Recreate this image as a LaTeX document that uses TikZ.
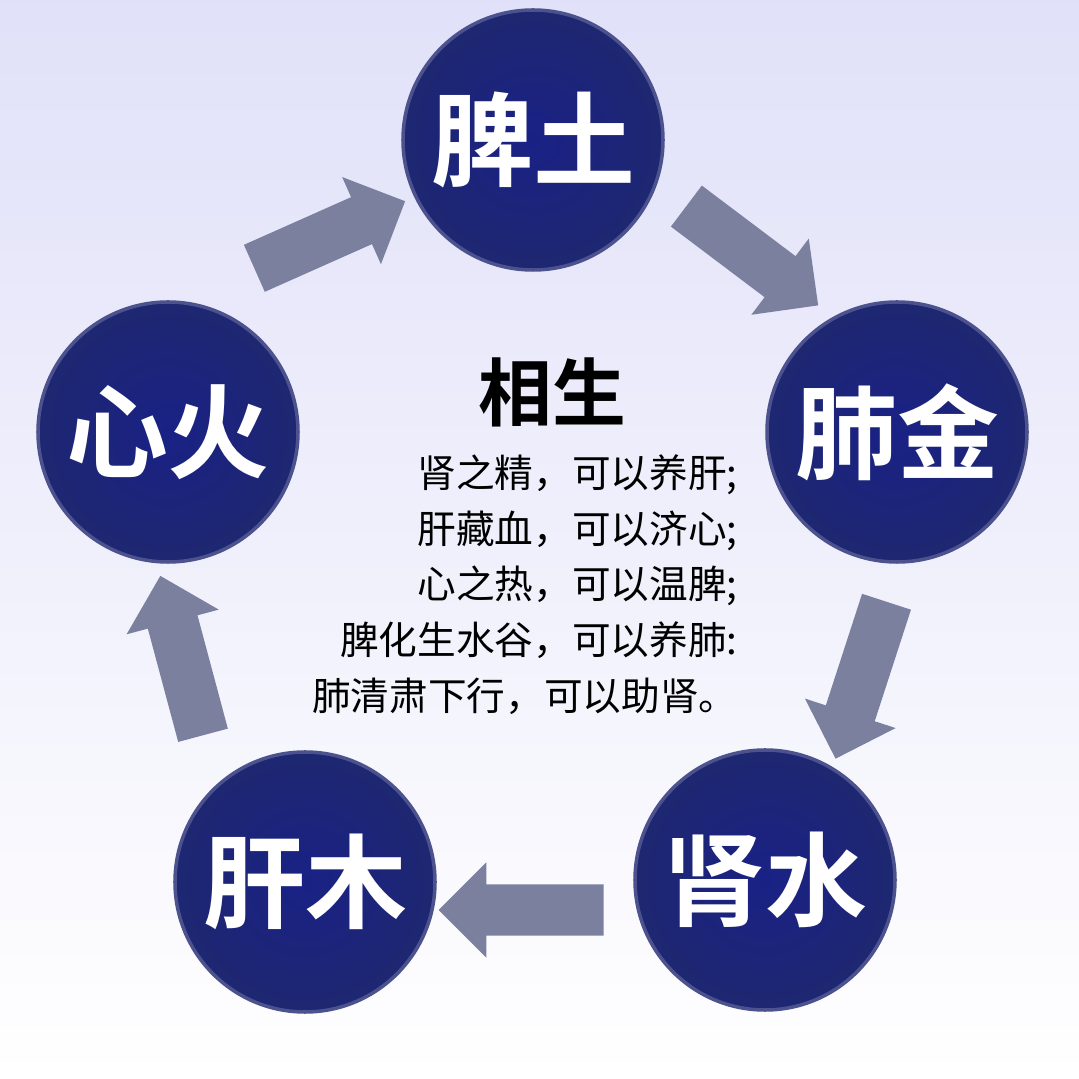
\documentclass[tikz,border=0pt]{standalone}
\usepackage{fontspec}
\newfontfamily\cjk{Noto Sans CJK SC}
\newfontfamily\cjkb{Noto Sans CJK SC Bold}
\usetikzlibrary{shapes.arrows}
\definecolor{navy}{HTML}{1E2770}
\definecolor{arrowgray}{HTML}{7C809F}
\begin{document}
\begin{tikzpicture}[
    phase/.style={circle, minimum size=2.6cm, inner sep=0pt, draw=navy!80!white, line width=1pt,
      inner color=navy!85!blue, outer color=navy, text=white, font=\cjkb\fontsize{29}{32}\selectfont},
    flow/.style={single arrow, fill=arrowgray, draw=none, minimum height=1.65cm,
      inner xsep=0pt, inner ysep=0.25cm, single arrow head extend=0.22cm}
  ]
  % background
  \shade[top color=black!20!blue!12!white, bottom color=white] (0,0) rectangle (10.79,10.79);
  \useasboundingbox (0,0) rectangle (10.79,10.79);

  % the five phases
  \node[phase] (pi) at (5.33,9.39) {脾土};
  \node[phase] (fei) at (8.97,6.47) {肺金};
  \node[phase] (shen) at (7.65,1.99) {肾水};
  \node[phase] (gan) at (3.05,1.97) {肝木};
  \node[phase] (xin) at (1.68,6.47) {心火};

  % arrows
  \node[flow, rotate=24] (a1) at (3.18,8.39) {};
  \node[flow, rotate=-37] (a2) at (7.42,8.31) {};
  \node[flow, rotate=-108] (a3) at (8.65,4.11) {};
  \node[flow, rotate=180] (a4) at (5.34,1.69) {};
  \node[flow, rotate=105] (a5) at (1.85,4.11) {};

  % text
  \node[font=\cjkb\fontsize{21}{24}\selectfont] (title) at (5.52,6.87) {相生};
  \node[font=\cjk\fontsize{11}{15.9}\selectfont, align=right, anchor=north east] (body) at (7.5,6.37) {%
    肾之精，可以养肝;\\肝藏血，可以济心;\\心之热，可以温脾;\\脾化生水谷，可以养肺:\\肺清肃下行，可以助肾。};
\end{tikzpicture}
\end{document}
